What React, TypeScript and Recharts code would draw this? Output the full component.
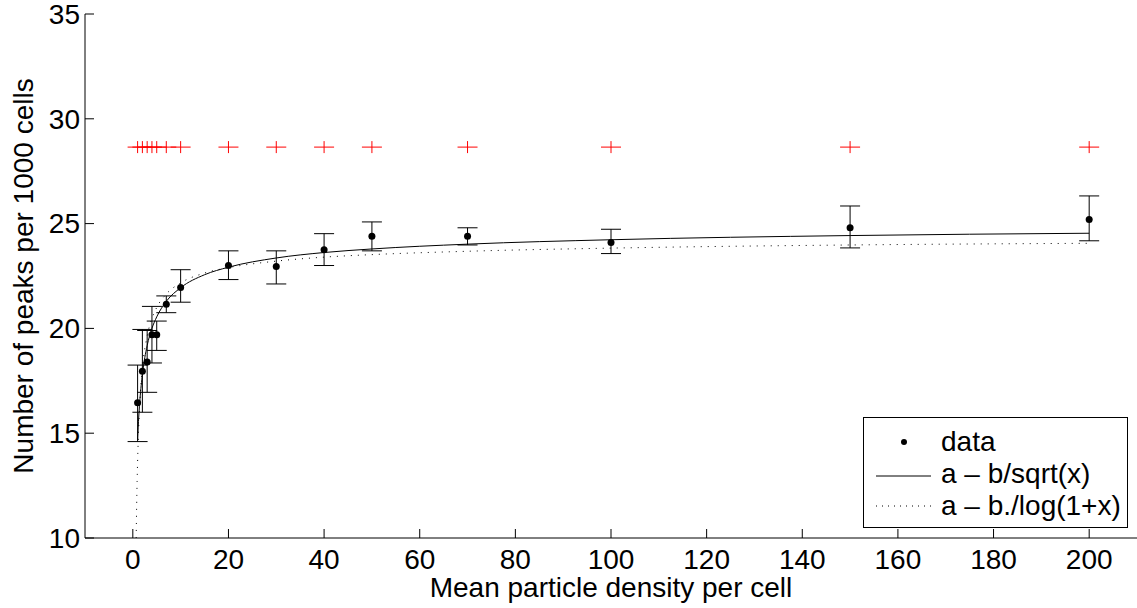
import {
  ComposedChart,
  XAxis,
  YAxis,
  Scatter,
  Line,
  ErrorBar,
  Legend,
  Label,
} from 'recharts';

const densities = [1, 2, 3, 4, 5, 7, 10, 20, 30, 40, 50, 70, 100, 150, 200];
const peakMeans = [16.45, 17.95, 18.4, 19.7, 19.7, 21.15, 21.95, 23.0, 22.95, 23.75, 24.4, 24.4, 24.1, 24.8, 25.2];
const peakLower = [14.6, 16.0, 16.95, 18.35, 18.95, 20.75, 21.25, 22.33, 22.12, 23.0, 23.7, 23.98, 23.57, 23.84, 24.18];
const peakUpper = [18.25, 19.95, 19.9, 21.05, 20.35, 21.55, 22.8, 23.7, 23.7, 24.52, 25.08, 24.8, 24.73, 25.84, 26.32];
const markerLevel = 28.65;

const sqrtFitX = [1, 1.25, 1.5, 2, 3, 4, 5, 7, 10, 15, 20, 30, 40, 50, 70, 100, 150, 200];
const sqrtFitY = [14.7, 15.82, 16.64, 17.8, 19.18, 20.0, 20.55, 21.29, 21.94, 22.56, 22.92, 23.36, 23.62, 23.79, 24.02, 24.23, 24.43, 24.54];
const logFitX = [0.7, 0.8, 0.9, 1, 1.25, 1.5, 2, 3, 4, 5, 7, 10, 15, 20, 30, 40, 50, 70, 100, 150, 200];
const logFitY = [10.0, 11.51, 12.7, 13.65, 15.39, 16.57, 18.08, 19.64, 20.47, 21.0, 21.64, 22.17, 22.64, 22.9, 23.21, 23.4, 23.52, 23.68, 23.83, 23.98, 24.06];

const xTicks = [0, 20, 40, 60, 80, 100, 120, 140, 160, 180, 200];
const yTicks = [10, 15, 20, 25, 30, 35];

const FONT = '"Liberation Sans", Arial, Helvetica, sans-serif';

const points = densities.map((x, i) => ({
  x,
  y: peakMeans[i],
  err: [peakMeans[i] - peakLower[i], peakUpper[i] - peakMeans[i]],
}));
const markers = densities.map((x) => ({ x, y: markerLevel }));
const sqrtFit = sqrtFitX.map((x, i) => ({ x, y: sqrtFitY[i] }));
const logFit = logFitX.map((x, i) => ({ x, y: logFitY[i] }));

const XTick = (props: any) => {
  const { x, y, payload } = props;
  return (
    <g>
      <line x1={x} y1={y} x2={x} y2={y - 9} stroke="#000" />
      <text x={x} y={y + 31} textAnchor="middle" fontSize={28} fontFamily={FONT} fill="#000">
        {payload.value}
      </text>
    </g>
  );
};

const YTick = (props: any) => {
  const { x, y, payload } = props;
  return (
    <g>
      <line x1={x + 5} y1={y} x2={x + 14} y2={y} stroke="#000" />
      <text x={x} y={y} dy="0.35em" textAnchor="end" fontSize={28} fontFamily={FONT} fill="#000">
        {payload.value}
      </text>
    </g>
  );
};

const Dot = (props: any) => <circle cx={props.cx} cy={props.cy} r={3.5} fill="#000" />;

const Plus = (props: any) => {
  const { cx, cy } = props;
  return (
    <g stroke="#ff0000" strokeWidth={1}>
      <line x1={cx - 10} y1={cy} x2={cx + 10} y2={cy} />
      <line x1={cx} y1={cy - 6} x2={cx} y2={cy + 6} />
    </g>
  );
};

const LegendBox = () => {
  const row = { display: 'flex', alignItems: 'center', height: 32 };
  const text = { fontSize: 28, fontFamily: FONT, color: '#000', marginLeft: 10, whiteSpace: 'nowrap' as const };
  return (
    <div style={{ border: '1px solid #000', background: '#fff', padding: '8px 0 6px 0', boxSizing: 'border-box', height: 111 }}>
      <div style={row}>
        <svg width={67} height={32}>
          <circle cx={40} cy={16} r={3} fill="#000" />
        </svg>
        <span style={text}>data</span>
      </div>
      <div style={row}>
        <svg width={67} height={32}>
          <line x1={12} y1={18} x2={67} y2={18} stroke="#000" />
        </svg>
        <span style={text}>a – b/sqrt(x)</span>
      </div>
      <div style={row}>
        <svg width={67} height={32}>
          <line x1={12} y1={16} x2={67} y2={16} stroke="#000" strokeDasharray="1 5" />
        </svg>
        <span style={text}>a – b./log(1+x)</span>
      </div>
    </div>
  );
};

export default function App() {
  return (
    <div style={{ position: 'absolute', left: 0, top: 0, background: '#fff' }}>
      <ComposedChart width={1137} height={608} margin={{ top: 14, right: 0, bottom: 0, left: 0 }}>
        <XAxis
          type="number"
          dataKey="x"
          domain={[-10, 210]}
          ticks={xTicks}
          height={70}
          tickSize={0}
          tickMargin={0}
          tick={XTick}
          stroke="#000"
          allowDataOverflow
        >
          <Label
            value="Mean particle density per cell"
            position="insideBottom"
            offset={11}
            style={{ fontSize: 28, fontFamily: FONT, fill: '#000' }}
          />
        </XAxis>
        <YAxis
          type="number"
          dataKey="y"
          domain={[10, 35]}
          ticks={yTicks}
          width={85}
          tickSize={0}
          tickMargin={5}
          tick={YTick}
          stroke="#000"
          allowDataOverflow
        >
          <Label
            content={() => (
              <text
                x={33}
                y={276}
                transform="rotate(-90, 33, 276)"
                textAnchor="middle"
                fontSize={28}
                fontFamily={FONT}
                fill="#000"
              >
                Number of peaks per 1000 cells
              </text>
            )}
          />
        </YAxis>
        <Line
          data={logFit}
          dataKey="y"
          type="monotone"
          dot={false}
          stroke="#000"
          strokeWidth={1}
          strokeDasharray="1 6"
          isAnimationActive={false}
        />
        <Line
          data={sqrtFit}
          dataKey="y"
          type="monotone"
          dot={false}
          stroke="#000"
          strokeWidth={1}
          isAnimationActive={false}
        />
        <Scatter data={markers} shape={Plus} isAnimationActive={false} />
        <Scatter data={points} shape={Dot} isAnimationActive={false}>
          <ErrorBar dataKey="err" direction="y" width={10} stroke="#000" strokeWidth={1} />
        </Scatter>
        <Legend
          layout="vertical"
          align="center"
          verticalAlign="middle"
          content={LegendBox}
          wrapperStyle={{ left: 863, top: 417, width: 265, height: 111 }}
        />
      </ComposedChart>
    </div>
  );
}
